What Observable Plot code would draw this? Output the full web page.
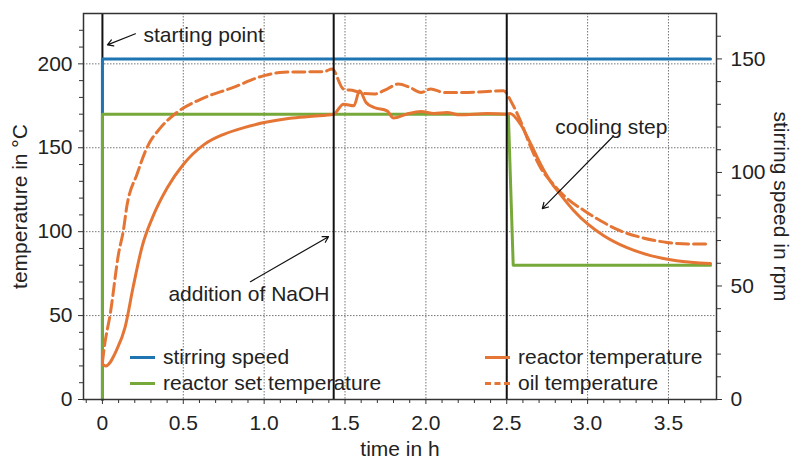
<!DOCTYPE html>
<html>
<head>
<meta charset="utf-8">
<script src="https://cdn.jsdelivr.net/npm/d3@7"></script>
<script src="https://cdn.jsdelivr.net/npm/@observablehq/plot@0.6"></script>
<style>
  body { margin: 0; background: #fff; }
  #wrap { position: relative; width: 799px; height: 461px; font-family: "Liberation Sans", Arial, Helvetica, sans-serif; }
  .leg { position: absolute; font-size: 21px; color: #222; line-height: 1; white-space: nowrap; }
  .sw { position: absolute; height: 0; }
</style>
</head>
<body>
<div id="wrap"></div>
<script>
// ---- data ----
const tStir = [0, 0, 3.76];
const rpmStir = [0, 150, 150];

const tSet = [0, 0, 2.51, 2.54, 3.76];
const TSet = [0, 170, 170, 80, 80];

const tReactor = [0, 0.02, 0.09, 0.14, 0.19, 0.245, 0.31, 0.40, 0.50, 0.63, 0.75, 0.875, 1.0, 1.16, 1.30, 1.43, 1.49, 1.555, 1.59, 1.63, 1.68, 1.76, 1.80, 1.88, 1.97, 2.05, 2.13, 2.21, 2.38, 2.50, 2.52, 2.585, 2.65, 2.71, 2.77, 2.83, 2.915, 3.0, 3.10, 3.24, 3.39, 3.55, 3.76];
const TReactor = [21, 20, 30, 43, 67, 91, 108.5, 126, 140, 152, 158, 162, 165, 167.6, 168.8, 170, 176, 175, 184, 177, 174, 172, 167.7, 170, 171.6, 170.4, 171, 169.6, 170.4, 170, 170.4, 164, 152, 140, 130, 122.4, 112.5, 104.6, 97.6, 90.6, 85.7, 82.7, 81];

const tOil = [0, 0.01, 0.05, 0.10, 0.13, 0.15, 0.215, 0.275, 0.36, 0.46, 0.61, 0.81, 1.0, 1.12, 1.37, 1.42, 1.49, 1.555, 1.62, 1.68, 1.76, 1.83, 1.90, 1.97, 2.03, 2.11, 2.23, 2.38, 2.48, 2.53, 2.585, 2.65, 2.71, 2.79, 2.87, 2.98, 3.08, 3.20, 3.33, 3.49, 3.62, 3.76];
const TOil = [22, 30, 52, 87, 101, 114.5, 134.5, 150, 162, 171, 179, 186, 193, 195, 195.4, 197, 185, 184, 182.3, 182, 185, 188, 186, 183, 185, 183, 183, 183.5, 184, 177, 166, 150, 138, 128, 120, 112.5, 106.5, 100.6, 96.6, 93.6, 92.7, 92.7];

const eventTimes = [0, 1.43, 2.5];

const xTicks = [0, 0.5, 1, 1.5, 2, 2.5, 3, 3.5];
const yTicks = [0, 50, 100, 150, 200];
const rpmTicks = [0, 50, 100, 150];

const annTexts = ["starting point", "addition of NaOH", "cooling step"];
const annTextT = [0.254, 0.408, 2.80];
const annTextY = [217.3, 63, 162];
const annArrowT1 = [0.204, 0.915, 3.16];
const annArrowY1 = [217.9, 70.2, 157];
const annArrowT2 = [0.031, 1.398, 2.72];
const annArrowY2 = [211.3, 97, 113.7];

// ---- derived ----
const yMax = 230, rpmMax = 170;
const k = yMax / rpmMax; // rpm -> temperature-axis units
const stir = tStir.map((t, i) => ({t, v: rpmStir[i] * k}));
const setT = tSet.map((t, i) => ({t, v: TSet[i]}));
const reactor = tReactor.map((t, i) => ({t, v: TReactor[i]}));
const oil = tOil.map((t, i) => ({t, v: TOil[i]}));
const ann = annTexts.map((s, i) => ({s, t: annTextT[i], y: annTextY[i], t1: annArrowT1[i], y1: annArrowY1[i], t2: annArrowT2[i], y2: annArrowY2[i]}));

const minorX = d3.range(-0.1, 3.79, 0.1).map(v => +v.toFixed(2)).filter(v => !xTicks.some(m => Math.abs(m - v) < 1e-6));
const minorY = d3.range(10, 230, 10).filter(v => v % 50 !== 0);
const minorR = d3.range(10, 170, 10).filter(v => v % 50 !== 0).map(v => v * k);

const blue = "#1f74b2", green = "#77a83a", orange = "#e57534";
const FS = 21;

const chart = Plot.plot({
  width: 799,
  height: 461,
  marginLeft: 83,
  marginRight: 83,
  marginTop: 13,
  marginBottom: 62,
  style: {fontFamily: "Liberation Sans, Arial, Helvetica, sans-serif", fontSize: FS + "px", color: "#222", background: "#fff"},
  x: {domain: [-0.117, 3.797]},
  y: {domain: [0, yMax]},
  marks: [
    Plot.gridX(xTicks.filter(d => d !== 0), {stroke: "#666", strokeOpacity: 0.9, strokeDasharray: "1.5,1.5"}),
    Plot.gridY(yTicks.filter(d => d !== 0), {stroke: "#666", strokeOpacity: 0.9, strokeDasharray: "1.5,1.5"}),
    Plot.ruleX([eventTimes[0]], {stroke: "#111", strokeWidth: 2}),
    Plot.line(stir, {x: "t", y: "v", stroke: blue, strokeWidth: 3}),
    Plot.line(setT, {x: "t", y: "v", stroke: green, strokeWidth: 3}),
    Plot.line(oil, {x: "t", y: "v", stroke: orange, strokeWidth: 3, strokeDasharray: "12,5", curve: "monotone-x"}),
    Plot.line(reactor, {x: "t", y: "v", stroke: orange, strokeWidth: 3, curve: "monotone-x"}),
    Plot.ruleX(eventTimes.slice(1), {stroke: "#111", strokeWidth: 2}),
    Plot.axisX({ticks: xTicks, tickSize: 5, tickPadding: 11, tickFormat: d => d === 0 ? "0" : d.toFixed(1), label: null, fontSize: FS, stroke: "#333"}),
    Plot.axisX({ticks: minorX, tickSize: 4, tickFormat: () => "", label: null, stroke: "#333"}),
    Plot.axisY({ticks: yTicks, tickSize: 5, tickPadding: 6, label: null, fontSize: FS, stroke: "#333"}),
    Plot.axisY({ticks: minorY, tickSize: 4, tickFormat: () => "", label: null, stroke: "#333"}),
    Plot.axisY({anchor: "right", ticks: rpmTicks.map(r => r * k), tickFormat: v => String(Math.round(v / k)), tickSize: 5, tickPadding: 9, label: null, fontSize: FS, stroke: "#333"}),
    Plot.axisY({anchor: "right", ticks: minorR, tickSize: 4, tickFormat: () => "", label: null, stroke: "#333"}),
    Plot.frame({stroke: "#333", strokeWidth: 1.5}),
    Plot.arrow(ann, {x1: "t1", y1: "y1", x2: "t2", y2: "y2", stroke: "#111", strokeWidth: 1.2, headLength: 8}),
    Plot.text(ann, {x: "t", y: "y", text: "s", textAnchor: "start", fontSize: FS, fill: "#222"}),
    Plot.text(["time in h"], {frameAnchor: "bottom", dy: 50, textAnchor: "middle", lineAnchor: "middle", fontSize: FS, fill: "#222"}),
    Plot.text(["temperature in °C"], {frameAnchor: "left", dx: -63, rotate: -90, textAnchor: "middle", lineAnchor: "middle", fontSize: FS, fill: "#222"}),
    Plot.text(["stirring speed in rpm"], {frameAnchor: "right", dx: 64, rotate: 90, textAnchor: "middle", lineAnchor: "middle", fontSize: FS, fill: "#222"})
  ]
});

const wrap = document.getElementById("wrap");
wrap.appendChild(chart);

// ---- legend (HTML overlay) ----
const legendItems = [
  {label: "stirring speed", color: blue, dash: false, left: 130, top: 357},
  {label: "reactor set temperature", color: green, dash: false, left: 130, top: 383},
  {label: "reactor temperature", color: orange, dash: false, left: 485, top: 357},
  {label: "oil temperature", color: orange, dash: true, left: 485, top: 383}
];
for (const it of legendItems) {
  const sw = document.createElement("div");
  sw.className = "sw";
  sw.style.left = it.left + "px";
  sw.style.top = (it.top - 1.5) + "px";
  sw.style.width = "25px";
  sw.style.borderTop = "3px " + (it.dash ? "dashed " : "solid ") + it.color;
  wrap.appendChild(sw);
  const tx = document.createElement("div");
  tx.className = "leg";
  tx.textContent = it.label;
  tx.style.left = (it.left + 33) + "px";
  tx.style.top = (it.top - 11) + "px";
  wrap.appendChild(tx);
}
</script>
</body>
</html>
